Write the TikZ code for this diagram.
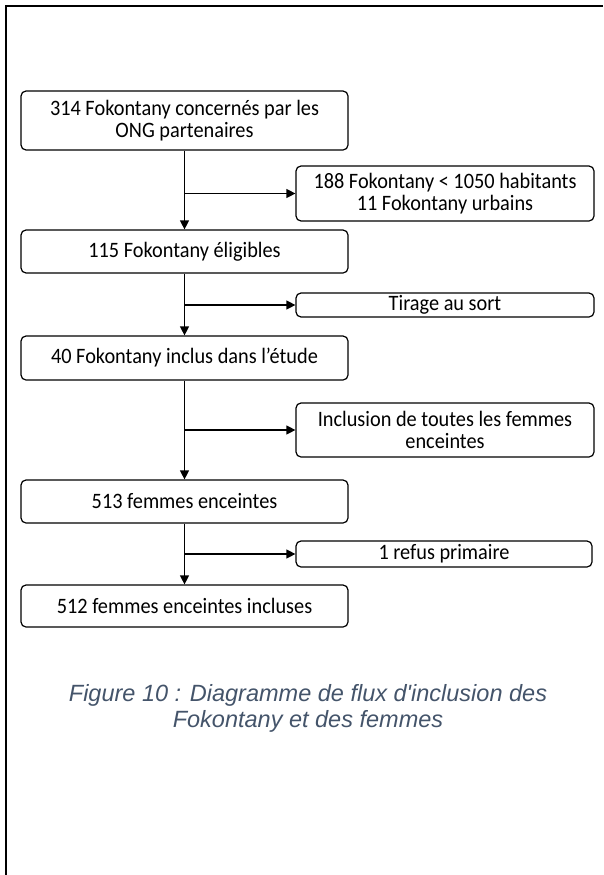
\documentclass[tikz,border=0pt]{standalone}
\usepackage{fontspec}
\setmainfont{Carlito}[FakeStretch=0.923]
\newfontfamily\capfont{Liberation Sans}
\usetikzlibrary{arrows.meta}
\definecolor{captext}{HTML}{44546A}
\tikzset{
  box/.style={draw, rounded corners=5pt, line width=1.2pt, align=center,
    inner sep=0pt, font=\fontsize{22}{22.5}\selectfont},
  main/.style={box, minimum width=327pt},
  side/.style={box, minimum width=298pt},
}
\begin{document}
\begin{tikzpicture}[x=1pt,y=-1pt]
      \useasboundingbox (0,0) rectangle (603,875);
      \draw[line width=2pt] (6,875) -- (6,6.5) -- (603,6.5);
      \draw
        (184.5,120.5) node[main, minimum height=59pt] (1){314 Fokontany concernés par les\\ONG partenaires}
        (184.5,251.5) node[main, minimum height=43pt] (2){115 Fokontany éligibles}
        (184.5,358) node[main, minimum height=44pt] (3){40 Fokontany inclus dans l’étude}
        (184.5,501.5) node[main, minimum height=43pt] (4){513 femmes enceintes}
        (184.5,606) node[main, minimum height=42pt] (5){512 femmes enceintes incluses}
        (445,193.5) node[side, minimum height=55pt] (s1){188 Fokontany < 1050 habitants\\11 Fokontany urbains}
        (445,305) node[side, minimum height=24pt] (s2){Tirage au sort}
        (445,430) node[side, minimum height=54pt] (s3){Inclusion de toutes les femmes\\enceintes}
        (444,554) node[side, minimum width=296pt, minimum height=26pt] (s4){1 refus primaire}
        (308,708.5) node[align=center, text=captext, font=\capfont\itshape\fontsize{23.5}{26.5}\selectfont] (cap){Figure 10 : Diagramme de flux d'inclusion des\\Fokontany et des femmes};
      \begin{scope}[-{Triangle[length=9pt,width=9pt]}, line width=1.2pt]
        \draw (1) to (2);
        \draw (2) to (3);
        \draw (3) to (4);
        \draw (4) to (5);
        \draw (1.south |- s1.west) to (s1.west);
        \draw (2.south |- s2.west) to (s2.west);
        \draw (3.south |- s3.west) to (s3.west);
        \draw (4.south |- s4.west) to (s4.west);
      \end{scope}
    \end{tikzpicture}
\end{document}
